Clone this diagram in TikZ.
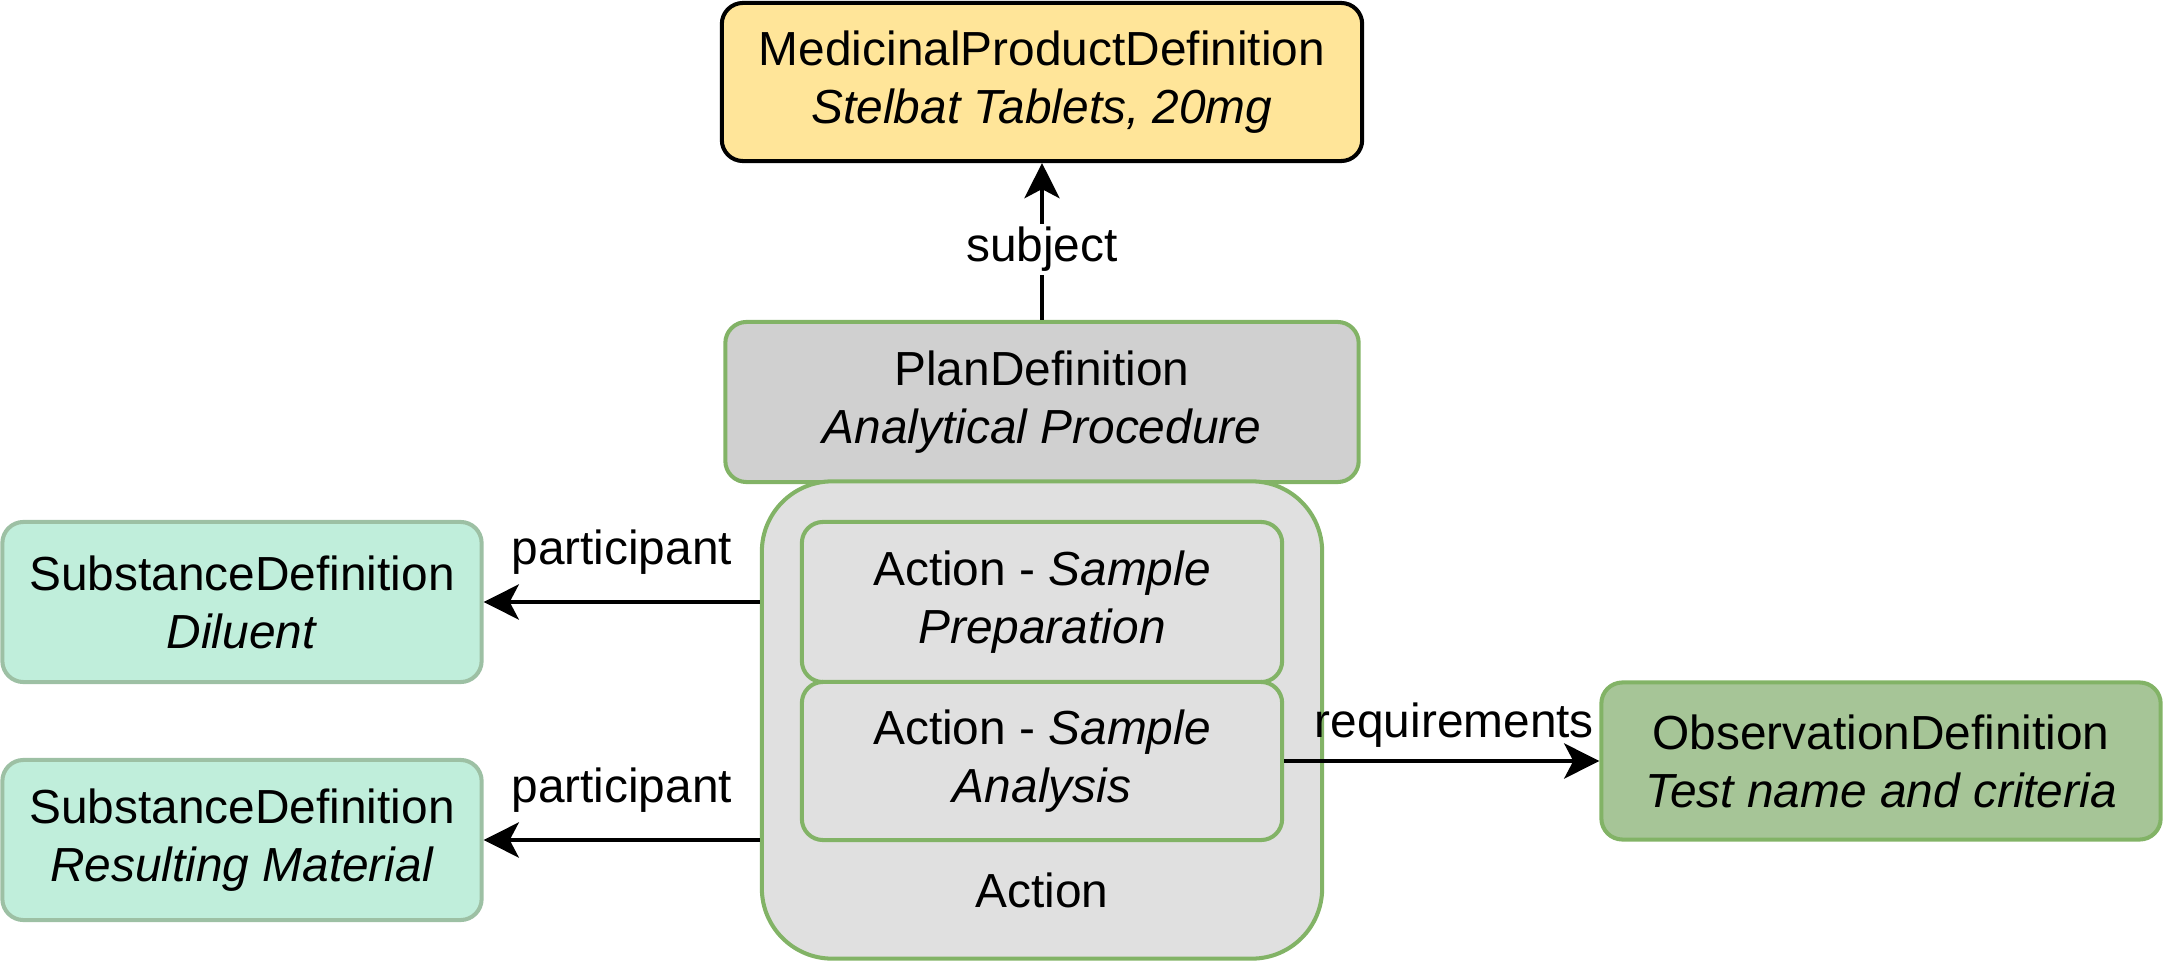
\documentclass[tikz,border=0pt]{standalone}
\usepackage{fontspec}
\setmainfont{Liberation Sans}
\usetikzlibrary{arrows.meta}

\definecolor{prodfill}{HTML}{FFE599}
\definecolor{planfill}{HTML}{D0D0D0}
\definecolor{actfill}{HTML}{E0E0E0}
\definecolor{subfill}{HTML}{C0EEDB}
\definecolor{subline}{HTML}{9DC0A4}
\definecolor{obsfill}{HTML}{A6C597}
\definecolor{greenline}{HTML}{82B366}

\begin{document}
\begin{tikzpicture}[x=0.01cm, y=-0.01cm,
		every node/.style={font=\fontsize{13.6}{16.5}\selectfont},
		box/.style={rectangle, draw, line width=1.15pt, rounded corners=6pt, align=center, inner sep=0pt},
		link/.style={line width=1.15pt, -{Stealth[length=10pt, width=10pt, inset=2.6pt]}}]
				\useasboundingbox (0,0) rectangle (2164,964);
				
				\node[box, fill=prodfill, minimum width=6.4cm, minimum height=1.58cm] (mpd) at (1042,82) {MedicinalProductDefinition\\\textit{Stelbat Tablets, 20mg}};
				\node[box, fill=planfill, draw=greenline, minimum width=6.33cm, minimum height=1.6cm] (plan) at (1042,402) {PlanDefinition\\\textit{Analytical Procedure}};
				\node[box, fill=actfill, draw=greenline, rounded corners=20pt, minimum width=5.6cm, minimum height=4.77cm] (act) at (1042,720) {};
				\node (actlbl) at (1042,890) {Action};
				\node[box, fill=actfill, draw=greenline, minimum width=4.8cm, minimum height=1.6cm] (prep) at (1042,602) {Action - \textit{Sample}\\\textit{Preparation}};
				\node[box, fill=actfill, draw=greenline, minimum width=4.8cm, minimum height=1.58cm] (anal) at (1042,761) {Action - \textit{Sample}\\\textit{Analysis}};
				\node[box, fill=subfill, draw=subline, minimum width=4.79cm, minimum height=1.6cm] (dil) at (242,602) {SubstanceDefinition\\\textit{Diluent}};
				\node[box, fill=subfill, draw=subline, minimum width=4.79cm, minimum height=1.6cm] (res) at (242,840) {SubstanceDefinition\\\textit{Resulting Material}};
				\node[box, fill=obsfill, draw=greenline, minimum width=5.59cm, minimum height=1.57cm] (obs) at (1881,761) {ObservationDefinition\\\textit{Test name and criteria}};
				
				\draw[link] (plan) -- (mpd) node[pos=0.45, fill=white, inner sep=1pt] {subject};
				\draw[link] (act.west |- dil) -- (dil) node[midway, above=4pt] {participant};
				\draw[link] (act.west |- res) -- (res) node[midway, above=4pt] {participant};
				\draw[link] (anal) -- (obs) node[pos=0.54, above] {requirements};
			\end{tikzpicture}
\end{document}
